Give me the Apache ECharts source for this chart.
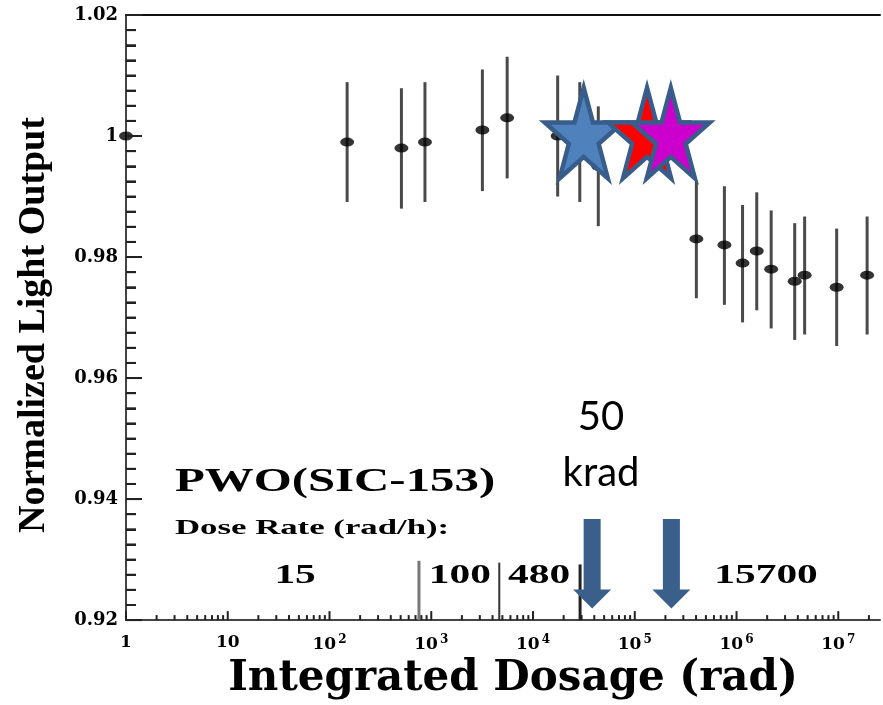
<!DOCTYPE html>
<html><head><meta charset="utf-8">
<script src="https://cdn.jsdelivr.net/npm/echarts@6/dist/echarts.min.js"></script>
<style>html,body{margin:0;padding:0;background:#fff}#chart{width:883px;height:705px}</style>
</head><body><div id="chart"></div>
<script>
// ---- data ----
const doses       = [1, 149, 509, 867, 3180, 5570, 17470, 28800, 43800, 403000, 760000, 1146000, 1580000, 2190000, 3730000, 4670000, 9640000, 19200000];
const lightOutput = [1.000, 0.999, 0.998, 0.999, 1.001, 1.003, 1.000, 0.999, 0.995, 0.983, 0.982, 0.979, 0.981, 0.978, 0.976, 0.977, 0.975, 0.977];
const errLow      = [1.000, 0.9891, 0.9880, 0.9891, 0.9909, 0.9930, 0.9900, 0.9891, 0.9851, 0.9732, 0.9721, 0.9692, 0.9712, 0.9682, 0.9663, 0.9672, 0.9653, 0.9672];
const errHigh     = [1.000, 1.0089, 1.0079, 1.0089, 1.0110, 1.0131, 1.0100, 1.0089, 1.0049, 0.9927, 0.9917, 0.9886, 0.9907, 0.9877, 0.9856, 0.9867, 0.9847, 0.9867];

const starDoses   = [31500, 132000, 226000];
const starLight   = [0.9997, 0.9997, 0.9997];

const arrowDoses  = [38100, 229000];
const arrowTop    = [0.9367, 0.9367];
const arrowTip    = [0.9219, 0.9219];

const boundaryDoses = [757, 4660, 29000];
const boundaryTop   = [0.9298, 0.9295, 0.9292];

const doseRateLabels = ['15', '100', '480', '15700'];
const doseRateLabelX = [45.9, 1911, 11490, 1950000];
const doseRateLabelY = 0.9273;

const yMin = 0.92, yMax = 1.02, yStep = 0.02, yMinorSplit = 8;
const xMin = 1, xMax = 2.57e7;
const minorMultipliers = [2, 3, 4, 5, 6, 7, 8, 9];
const decades = [1, 10, 100, 1e3, 1e4, 1e5, 1e6, 1e7];

// ---- styles ----
const starFills = ['#4F81BD', '#FF0000', '#CC00CC'];
const boundaryColors = ['#777', '#333', '#222'];
const boundaryWidths = [3, 2, 3];
const serifBold = '"DejaVu Serif"';
const timesBold = '"Liberation Serif"';
const tickColor = '#222';
// tick kinds: 0 x minor, 1 x major, 2 y minor, 3 y major
const tickLengths = [5, 9, 10, 16];

// axis tick positions (derived from the axis settings)
const axisTickRows = [];
decades.forEach(d => {
  axisTickRows.push([d, yMin, 1]);
  minorMultipliers.forEach(m => { if (d * m <= xMax) axisTickRows.push([d * m, yMin, 0]); });
});
const yTickCount = Math.round((yMax - yMin) / yStep * yMinorSplit);
for (let i = 0; i <= yTickCount; i++) {
  axisTickRows.push([xMin, yMin + i * yStep / yMinorSplit, i % yMinorSplit === 0 ? 3 : 2]);
}

const chart = echarts.init(document.getElementById('chart'), null, {renderer: 'canvas'});

const option = {
  backgroundColor: '#fff',
  animation: false,
  grid: {left: 126, right: -4, top: 15, bottom: 79},
  xAxis: [{
    type: 'log', logBase: 10, min: xMin, max: xMax,
    name: 'Integrated Dosage (rad)', nameLocation: 'middle', nameGap: 35,
    nameTextStyle: {fontFamily: serifBold, fontWeight: 'bold', fontSize: 42, color: '#000', padding: [0, 0, 0, 20]},
    axisLine: {show: true, lineStyle: {color: '#444', width: 2}},
    axisTick: {show: false},
    splitLine: {show: false},
    axisLabel: {
      margin: 14, color: '#000', fontFamily: serifBold, fontWeight: 'bold', fontSize: 17,
      formatter: v => {
        const lg = Math.log10(v); const e = Math.round(lg);
        if (Math.abs(lg - e) > 1e-6) return '';
        if (e === 0) return '1';
        if (e === 1) return '10';
        return '10{sup|' + e + '}';
      },
      rich: {sup: {fontFamily: serifBold, fontWeight: 'bold', fontSize: 12, color: '#000', verticalAlign: 'top', padding: [0, 0, 9, 2]}}
    }
  }, {
    type: 'log', logBase: 10, min: xMin, max: xMax, position: 'top',
    axisLine: {show: true, lineStyle: {color: '#111', width: 2}},
    axisTick: {show: false}, axisLabel: {show: false}, splitLine: {show: false}
  }],
  yAxis: {
    type: 'value', min: yMin, max: yMax, interval: yStep,
    name: 'Normalized Light Output', nameLocation: 'middle', nameGap: 73,
    nameTextStyle: {fontFamily: timesBold, fontWeight: 'bold', fontSize: 38, color: '#000', padding: [0, 15, 0, 0]},
    axisLine: {show: true, lineStyle: {color: '#444', width: 2}},
    axisTick: {show: true, inside: true, length: 16, lineStyle: {color: tickColor, width: 2}},
    minorTick: {show: true, splitNumber: yMinorSplit, length: 10, lineStyle: {color: tickColor, width: 2}},
    splitLine: {show: false},
    axisLabel: {
      margin: 8, color: '#000', fontFamily: serifBold, fontWeight: 'bold', fontSize: 18,
      formatter: v => { const r = +(+v).toFixed(2); return r === 1 ? '1' : r.toFixed(2); }
    }
  },
  series: [
    { // axis ticks, inward (x: decades + log subdivisions; y: 0.02 major, 0.0025 minor)
      type: 'custom', silent: true, z: 8,
      data: axisTickRows,
      renderItem: (params, api) => {
        const p = api.coord([api.value(0), api.value(1)]);
        const kind = api.value(2);
        const len = tickLengths[kind];
        const shape = kind < 2
          ? {x1: p[0], y1: p[1], x2: p[0], y2: p[1] - len}
          : {x1: p[0], y1: p[1], x2: p[0] + len, y2: p[1]};
        return {type: 'line', shape: shape, style: {stroke: tickColor, lineWidth: 2}};
      }
    },
    { // dose-rate boundaries
      type: 'custom', silent: true, z: 2,
      data: boundaryDoses.map((d, i) => [d, yMin, boundaryTop[i]]),
      renderItem: (params, api) => {
        const a = api.coord([api.value(0), api.value(1)]), b = api.coord([api.value(0), api.value(2)]);
        const i = params.dataIndex;
        return {type: 'line', shape: {x1: a[0], y1: a[1], x2: b[0], y2: b[1]}, style: {stroke: boundaryColors[i], lineWidth: boundaryWidths[i]}};
      }
    },
    { // error bars
      type: 'custom', silent: true, z: 3,
      data: doses.map((d, i) => [d, errLow[i], errHigh[i]]),
      renderItem: (params, api) => {
        const a = api.coord([api.value(0), api.value(1)]), b = api.coord([api.value(0), api.value(2)]);
        return {type: 'line', shape: {x1: a[0], y1: a[1], x2: b[0], y2: b[1]}, style: {stroke: '#4a4a4a', lineWidth: 3}};
      }
    },
    {
      type: 'scatter', z: 4, symbol: 'circle', symbolSize: [14, 9],
      itemStyle: {color: '#000'},
      data: doses.map((d, i) => [d, lightOutput[i]])
    },
    { // stars
      type: 'custom', silent: true, z: 6,
      data: starDoses.map((d, i) => [d, starLight[i]]),
      renderItem: (params, api) => {
        const c = api.coord([api.value(0), api.value(1)]);
        const pts = [];
        for (let k = 0; k < 10; k++) {
          const ang = -Math.PI / 2 + k * Math.PI / 5;
          const r = k % 2 === 0 ? 1 : 0.382;
          pts.push([c[0] + Math.cos(ang) * r * 41, c[1] + Math.sin(ang) * r * 50]);
        }
        return {type: 'polygon', shape: {points: pts}, style: {fill: starFills[params.dataIndex], stroke: '#385D8A', lineWidth: 4.5, lineJoin: 'miter'}};
      }
    },
    { // arrows
      type: 'custom', silent: true, z: 6,
      data: arrowDoses.map((d, i) => [d, arrowTop[i], arrowTip[i]]),
      renderItem: (params, api) => {
        const t = api.coord([api.value(0), api.value(1)]), p = api.coord([api.value(0), api.value(2)]);
        const cx = p[0], hl = 19, sw = 8.5, hw = 19;
        return {type: 'polygon', shape: {points: [
          [cx - sw, t[1]], [cx + sw, t[1]], [cx + sw, p[1] - hl], [cx + hw, p[1] - hl],
          [cx, p[1]], [cx - hw, p[1] - hl], [cx - sw, p[1] - hl]
        ]}, style: {fill: '#3A5F8B'}};
      }
    },
    { // dose rate labels
      type: 'custom', silent: true, z: 5,
      data: doseRateLabels.map((t, i) => [doseRateLabelX[i], doseRateLabelY]),
      renderItem: (params, api) => {
        const c = api.coord([api.value(0), api.value(1)]);
        return {type: 'text', x: c[0], y: c[1], scaleX: 1.48,
          style: {text: doseRateLabels[params.dataIndex], fontFamily: timesBold, fontWeight: 'bold', fontSize: 28, fill: '#000', align: 'center', verticalAlign: 'middle'}};
      }
    }
  ],
  graphic: [
    {type: 'text', x: 175, y: 482, scaleX: 1.48, style: {text: 'PWO(SIC-153)', fontFamily: timesBold, fontWeight: 'bold', fontSize: 33, fill: '#000', align: 'left', verticalAlign: 'middle'}},
    {type: 'text', x: 175, y: 528, scaleX: 1.58, style: {text: 'Dose Rate (rad/h):', fontFamily: timesBold, fontWeight: 'bold', fontSize: 22, fill: '#000', align: 'left', verticalAlign: 'middle'}},
    {type: 'text', x: 601, y: 445, style: {text: '50\nkrad', fontFamily: 'Lato', fontSize: 40, lineHeight: 56, fill: '#000', align: 'center', verticalAlign: 'middle'}}
  ]
};
chart.setOption(option);
</script>
</body></html>
